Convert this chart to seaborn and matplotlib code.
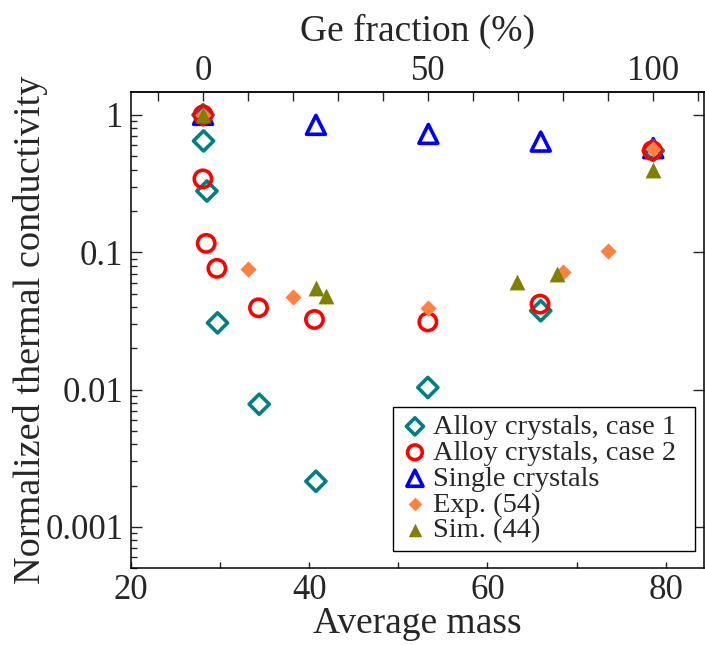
import numpy as np
import matplotlib
matplotlib.use("Agg")
import matplotlib.pyplot as plt
import seaborn as sns
from matplotlib.ticker import FixedLocator, LogLocator, NullFormatter

# Datos (masa media vs conductividad normalizada)
case1_mass = [28.09, 28.14, 28.52, 29.71, 34.39, 40.75, 53.31, 65.98, 78.6]
case1_k = [1.0, 0.646, 0.279, 0.0306, 0.00783, 0.00215, 0.01036, 0.0375, 0.55]

case2_mass = [28.09, 28.07, 28.44, 29.64, 34.31, 40.59, 53.31, 65.9, 78.5]
case2_k = [1.0, 0.342, 0.116, 0.0763, 0.0394, 0.0324, 0.0311, 0.0419, 0.549]

single_mass = [28.09, 40.75, 53.37, 65.98, 78.6]
single_k = [1.0, 0.846, 0.727, 0.639, 0.572]

exp_mass = [28.09, 33.12, 38.17, 53.37, 68.51, 73.56, 78.6]
exp_k = [1.0, 0.0754, 0.0474, 0.0394, 0.0721, 0.102, 0.565]

sim_mass = [28.09, 40.75, 41.87, 63.36, 67.77, 78.6]
sim_k = [1.0, 0.0546, 0.0479, 0.061, 0.0694, 0.397]

M_SI = 28.09
M_END = 78.6

sns.set_style("ticks")
plt.rcParams['font.family'] = ['Liberation Serif', 'DejaVu Serif']

fig = plt.figure(figsize=(7.05, 6.45), dpi=100)
ax = fig.add_axes([0.1858, 0.1189, 0.8128, 0.738])

# orden de dibujo: azul abajo, oliva arriba
sns.scatterplot(x=single_mass, y=single_k, ax=ax, marker='^', s=185,
                facecolor='none', edgecolor='#0000ff', linewidth=2.6,
                zorder=3, label='Single crystals')
sns.scatterplot(x=case1_mass, y=case1_k, ax=ax, marker='D', s=105,
                facecolor='none', edgecolor='#008080', linewidth=2.6,
                zorder=4, label='Alloy crystals, case 1')
sns.scatterplot(x=case2_mass, y=case2_k, ax=ax, marker='o', s=155,
                facecolor='none', edgecolor='#ff0000', linewidth=2.6,
                zorder=5, label='Alloy crystals, case 2')
sns.scatterplot(x=exp_mass, y=exp_k, ax=ax, marker='D', s=68,
                color='#ff8040', linewidth=0, zorder=6, label='Exp. (54)')
sns.scatterplot(x=sim_mass, y=sim_k, ax=ax, marker='^', s=130,
                color='#808000', linewidth=0, zorder=7, label='Sim. (44)')

ax.set_yscale('log')
ax.set_xlim(20, 84.3)
ax.set_ylim(5e-4, 1.46)

ax.set_xticks([20, 40, 60, 80])
ax.xaxis.set_minor_locator(FixedLocator([30, 50, 70]))
ax.set_yticks([1e-3, 1e-2, 1e-1, 1])
ax.set_yticklabels(['0.001', '0.01', '0.1', '1'])
ax.yaxis.set_minor_locator(LogLocator(base=10, subs=np.arange(2, 10)))
ax.yaxis.set_minor_formatter(NullFormatter())

ax.tick_params(axis='x', which='both', direction='in', length=4.3, width=1,
               top=False, bottom=True, labelsize=25, pad=4)
ax.tick_params(axis='y', which='major', direction='in', length=7.7, width=1,
               left=True, right=True, labelsize=25, pad=5.5)
ax.tick_params(axis='y', which='minor', direction='in', length=4, width=1,
               left=True, right=False)
for sp in ax.spines.values():
    sp.set_linewidth(1.1)
    sp.set_color('black')

ax.set_xlabel('Average mass', fontsize=27, labelpad=0)
ax.set_ylabel('Normalized thermal conductivity', fontsize=27.5, labelpad=-2)

# eje superior: fracción de Ge
def m2f(m):
    return (np.asarray(m) - M_SI) / (M_END - M_SI) * 100

def f2m(f):
    return np.asarray(f) / 100 * (M_END - M_SI) + M_SI

sec = ax.secondary_xaxis('top', functions=(m2f, f2m))
sec.set_xticks([0, 50, 100])
sec.xaxis.set_minor_locator(FixedLocator(list(range(-10, 111, 10))))
sec.tick_params(axis='x', which='both', direction='in', length=6.5, width=1,
                labelsize=25, pad=3)
sec.spines['top'].set_linewidth(1.1)
sec.set_xlabel('Ge fraction (%)', fontsize=27, labelpad=10)

# leyenda en el orden del original
handles, labels = ax.get_legend_handles_labels()
order = ['Alloy crystals, case 1', 'Alloy crystals, case 2',
         'Single crystals', 'Exp. (54)', 'Sim. (44)']
hmap = dict(zip(labels, handles))
leg = ax.legend([hmap[k] for k in order], order, loc='lower left',
                bbox_to_anchor=(0.457, 0.037, 0.527, 0.3), mode='expand',
                borderaxespad=0, fontsize=20.5, markerscale=0.85,
                labelspacing=0.0, handlelength=1.05, handletextpad=0.1,
                borderpad=0.25, fancybox=False, framealpha=1,
                edgecolor='black')
leg.get_frame().set_linewidth(1.0)

fig.savefig('out.png', dpi=100)
